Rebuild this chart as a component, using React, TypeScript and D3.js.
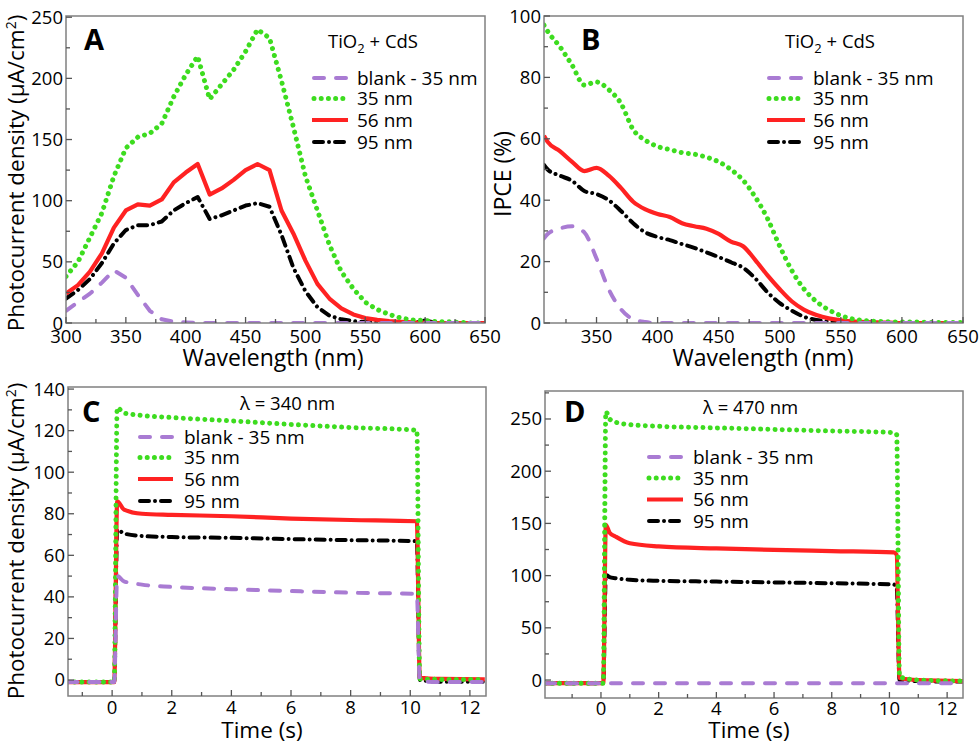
import React from 'react';
import * as d3 from 'd3';

// ---------- DATA ----------
const wlA = [300,310,320,330,340,350,360,370,380,390,400,410,420,430,440,450,460,470,480,490,500,510,520,530,540,550,560,570,580,590,600,610,620,630,640,650];
const blankA = [10,17,24,33,43,37,23,10,3,1,0.5,0,0,0,0,0,0,0,0,0,0,0,0,0,0,0,0,0,0,0,0,0,0,0,0,0];
const nm35A = [38,50,70,90,120,143,152,155,163,185,203,218,183,195,207,222,240,233,198,160,120,92,64,42,28,17,11,7,4,2.5,2,1,1,0.5,0,0];
const nm56A = [24,31,42,57,78,92,97,96,101,115,123,130,105,110,117,125,130,125,92,73,51,32,20,12,7,4,2.5,1.5,1,0.5,0.3,0,0,0,0,0];
const nm95A = [20,27,36,49,65,76,80,80,83,92,98,103,85,88,92,96,98,95,72,45,26,13,6,3,1.5,0.8,0.3,0,0,0,2,0,0,0,0,0];

const wlB = [307,310,320,330,340,350,360,370,380,390,400,410,420,430,440,450,460,470,480,490,500,510,520,530,540,550,560,570,580,590,600,610,620,630,640,650];
const blankB = [27.6,29,30.8,31.5,29.5,21,11,4.5,1.2,0.3,0,0,0,0,0,0,0,0,0,0,0,0,0,0,0,0,0,0,0,0,0,0,0,0,0,0];
const nm35B = [97,95,90,84,77.5,78.5,76,71.5,63,59.5,57.5,56.5,55.5,55,54,52.5,50,46.5,41,34,25,17,11,7,4.3,2.4,1.3,0.8,0.5,0.4,0.3,0.3,0.2,0.2,0.2,0.2];
const nm56B = [61,59,56,52.5,49.5,50.5,48,44,39.5,37,35.5,34.5,32.5,31.5,30.7,29,26.5,25,20.5,15.5,11,7,4.3,2.6,1.5,0.9,0.5,0.3,0.2,0.1,0,0,0,0,0,0];
const nm95B = [51.5,50,48,46.3,43,42,40,36.5,32.5,29.5,28,27,25.7,24.5,23,21.5,19.8,18,14.5,10,6.5,4,2,1,0.6,0.3,0.1,0,0,0,0,0,0,0,0,0];

const tC = [-1.5,0.07,0.17,0.4,1,2,4,6,8,10.22,10.32,11,12.5];
const blankC = [-1,-1,50,47.5,45.9,44.8,43.7,42.8,42,41.4,-0.5,-1,-1];
const nm35C = [-1,-1,131,128.5,127.3,126.3,124.7,123,121.5,120.2,0.5,0.3,0.2];
const nm56C = [-1,-1,86,82,80,79.5,78.8,77.7,77,76.4,1,0.5,0.3];
const nm95C = [-1,-1,72.4,70.5,69.3,68.8,68.4,67.8,67.3,66.8,0,-0.8,-0.8];

const tD = [-1.94,0.08,0.17,0.3,0.5,1,2,4,6,8,10.15,10.25,10.35,11,12.55];
const blankD = [-3,-3,-3,-3,-3,-3,-3,-3,-3,-3,-3,-3,-3,-3,-3];
const nm35D = [-3,-3,257,250,247,244.6,243,241.5,240,238.5,237,235,3,0,-1];
const nm56D = [-3,-3,148.7,141,137.5,131,128,126,124.7,123.5,122.3,120,2,0,-1];
const nm95D = [-3,-3,100.7,98.5,97.5,96,95,94.3,93.5,92.7,91.5,89,0,-1,-1.5];

const legendLabels = ['blank - 35 nm', '35 nm', '56 nm', '95 nm'];
const xTicksA = [300,350,400,450,500,550,600,650];
const xTicksB = [350,400,450,500,550,600,650];
const yTicksA = [0,50,100,150,200,250];
const yTicksB = [0,20,40,60,80,100];
const xTicksT = [0,2,4,6,8,10,12];
const yTicksC = [0,20,40,60,80,100,120,140];
const yTicksD = [0,50,100,150,200,250];

// ---------- STYLES ----------
const FONT = "'Open Sans', 'Liberation Sans', sans-serif";
const lineStyles: Record<string, any> = {
  blank: { stroke: '#a97bd3', width: 4, dash: '10 12', cap: 'round' },
  s35: { stroke: '#3ddc1f', width: 5, dash: '0.01 7.2', cap: 'round' },
  s56: { stroke: '#ff2222', width: 4.2, dash: null, cap: 'butt' },
  s95: { stroke: '#000000', width: 4, dash: '9 6 0.01 6', cap: 'round' },
};
const styleKeys = ['blank', 's35', 's56', 's95'];
const drawOrder = ['s95', 's56', 's35', 'blank'];

type PanelProps = {
  box: [number, number, number, number];
  xDomain: [number, number];
  yDomain: [number, number];
  xTicks: number[];
  xMinorStep: number;
  yTicks: number[];
  yMinorStep: number;
  xs: number[];
  series: Record<string, number[]>;
  letter: string;
  letterPos: [number, number];
  note: React.ReactNode;
  notePos: [number, number];
  legend: { x0: number; x1: number; tx: number; ys: number[] };
  curve: any;
  labelOffset: number;
};

function Panel(p: PanelProps) {
  const [x0, y0, x1, y1] = p.box;
  const x = d3.scaleLinear().domain(p.xDomain).range([x0, x1]);
  const y = d3.scaleLinear().domain(p.yDomain).range([y1, y0]);
  const line = d3.line<number>().x((_, i) => x(p.xs[i])).y((d) => y(d)).curve(p.curve);
  const xMinor: number[] = [];
  for (let v = Math.ceil(p.xDomain[0] / p.xMinorStep) * p.xMinorStep; v <= p.xDomain[1] + 1e-9; v += p.xMinorStep) xMinor.push(v);
  const yMinor: number[] = [];
  for (let v = Math.ceil(p.yDomain[0] / p.yMinorStep) * p.yMinorStep; v <= p.yDomain[1] + 1e-9; v += p.yMinorStep) yMinor.push(v);
  const isMajorX = (v: number) => p.xTicks.some((t) => Math.abs(t - v) < 1e-6);
  const isMajorY = (v: number) => p.yTicks.some((t) => Math.abs(t - v) < 1e-6);
  const frame = '#808080';
  return (
    <g>
      <defs>
        <clipPath id={'clip' + p.letter}>
          <rect x={x0} y={y0 - 3} width={x1 - x0} height={y1 - y0 + 3} />
        </clipPath>
      </defs>
      <g clipPath={`url(#clip${p.letter})`}>
        {drawOrder.map((k) => {
          const s = lineStyles[k];
          return (
            <path key={k} d={line(p.series[k]) || ''} fill="none" stroke={s.stroke} strokeWidth={s.width}
              strokeDasharray={s.dash || undefined} strokeLinecap={s.cap} strokeLinejoin="round" />
          );
        })}
      </g>
      <rect x={x0} y={y0} width={x1 - x0} height={y1 - y0} fill="none" stroke={frame} strokeWidth={1.5} />
      {xMinor.map((v) => (
        <line key={'xt' + v} x1={x(v)} x2={x(v)} y1={y1} y2={y1 - (isMajorX(v) ? 6 : 4)} stroke="#555" strokeWidth={1.3} />
      ))}
      {yMinor.map((v) => (
        <line key={'yt' + v} x1={x0} x2={x0 + (isMajorY(v) ? 6 : 4)} y1={y(v)} y2={y(v)} stroke="#555" strokeWidth={1.3} />
      ))}
      {p.xTicks.map((v) => (
        <text key={'xl' + v} x={x(v)} y={y1 + p.labelOffset} textAnchor="middle" fontSize={18.5} fontFamily={FONT}>{v}</text>
      ))}
      {p.yTicks.map((v) => (
        <text key={'yl' + v} x={x0 - 3} y={y(v) + 6.5} textAnchor="end" fontSize={18.5} fontFamily={FONT}>{v}</text>
      ))}
      <text x={p.letterPos[0]} y={p.letterPos[1]} fontSize={29} fontWeight="bold" fontFamily={FONT}>{p.letter}</text>
      <text x={p.notePos[0]} y={p.notePos[1]} fontSize={18.5} fontFamily={FONT}>{p.note}</text>
      {styleKeys.map((k, i) => {
        const s = lineStyles[k];
        const ly = p.legend.ys[i];
        return (
          <g key={'lg' + k}>
            <line x1={p.legend.x0 + (s.cap === 'round' ? 2 : 0)} x2={p.legend.x1} y1={ly} y2={ly} stroke={s.stroke} strokeWidth={s.width}
              strokeDasharray={s.dash || undefined} strokeLinecap={s.cap} />
            <text x={p.legend.tx} y={ly + 6.5} fontSize={19} fontFamily={FONT}>{legendLabels[i]}</text>
          </g>
        );
      })}
    </g>
  );
}

const tio2 = (
  <>
    TiO<tspan fontSize={13} dy={5}>2</tspan><tspan dy={-5}> + CdS</tspan>
  </>
);

export default function App() {
  return (
    <svg width={979} height={748} style={{ position: 'absolute', left: 0, top: 0, background: '#fff' }} fontFamily={FONT}>
      <rect width={979} height={748} fill="#fff" />
      <Panel box={[66, 16, 485, 323]} xDomain={[300, 650]} yDomain={[0, 251]} xTicks={xTicksA} xMinorStep={25}
        yTicks={yTicksA} yMinorStep={25} xs={wlA} labelOffset={20}
        series={{ blank: blankA, s35: nm35A, s56: nm56A, s95: nm95A }}
        letter="A" letterPos={[84, 50]} note={tio2} notePos={[328, 48]}
        legend={{ x0: 312, x1: 348, tx: 357, ys: [78, 98.5, 120, 142] }} curve={d3.curveLinear} />
      <Panel box={[544, 16, 963, 323]} xDomain={[307, 650]} yDomain={[0, 100]} xTicks={xTicksB} xMinorStep={25}
        yTicks={yTicksB} yMinorStep={10} xs={wlB} labelOffset={20}
        series={{ blank: blankB, s35: nm35B, s56: nm56B, s95: nm95B }}
        letter="B" letterPos={[581, 50]} note={tio2} notePos={[785, 48]}
        legend={{ x0: 767, x1: 805, tx: 813, ys: [78, 98.5, 120, 142] }} curve={d3.curveMonotoneX} />
      <Panel box={[68, 387, 486, 696]} xDomain={[-1.48, 12.54]} yDomain={[-7.7, 141]} xTicks={xTicksT} xMinorStep={1}
        yTicks={yTicksC} yMinorStep={10} xs={tC} labelOffset={18}
        series={{ blank: blankC, s35: nm35C, s56: nm56C, s95: nm95C }}
        letter="C" letterPos={[82, 422]} note={<>λ = 340 nm</>} notePos={[240, 410]}
        legend={{ x0: 138, x1: 173, tx: 184, ys: [437, 457.5, 479, 501] }} curve={d3.curveMonotoneX} />
      <Panel box={[545, 391, 963, 698]} xDomain={[-1.94, 12.55]} yDomain={[-17.2, 276.8]} xTicks={xTicksT} xMinorStep={1}
        yTicks={yTicksD} yMinorStep={25} xs={tD} labelOffset={17}
        series={{ blank: blankD, s35: nm35D, s56: nm56D, s95: nm95D }}
        letter="D" letterPos={[564, 422]} note={<>λ = 470 nm</>} notePos={[703, 414]}
        legend={{ x0: 647, x1: 683, tx: 693, ys: [457, 478, 499.5, 521] }} curve={d3.curveMonotoneX} />
      {/* axis titles */}
      <text x={273} y={366} textAnchor="middle" fontSize={23} fontFamily={FONT}>Wavelength (nm)</text>
      <text x={763} y={366} textAnchor="middle" fontSize={23} fontFamily={FONT}>Wavelength (nm)</text>
      <text x={262} y={738} textAnchor="middle" fontSize={22.5} fontFamily={FONT}>Time (s)</text>
      <text x={749} y={738} textAnchor="middle" fontSize={22.5} fontFamily={FONT}>Time (s)</text>
      <text transform="translate(24,173) rotate(-90)" textAnchor="middle" fontSize={22.5} fontFamily={FONT}>
        Photocurrent density (μA/cm<tspan fontSize={14} dy={-8}>2</tspan><tspan dy={8}>)</tspan>
      </text>
      <text transform="translate(24,541) rotate(-90)" textAnchor="middle" fontSize={22.5} fontFamily={FONT}>
        Photocurrent density (μA/cm<tspan fontSize={14} dy={-8}>2</tspan><tspan dy={8}>)</tspan>
      </text>
      <text transform="translate(511,174) rotate(-90)" textAnchor="middle" fontSize={23} fontFamily={FONT}>IPCE (%)</text>
    </svg>
  );
}
